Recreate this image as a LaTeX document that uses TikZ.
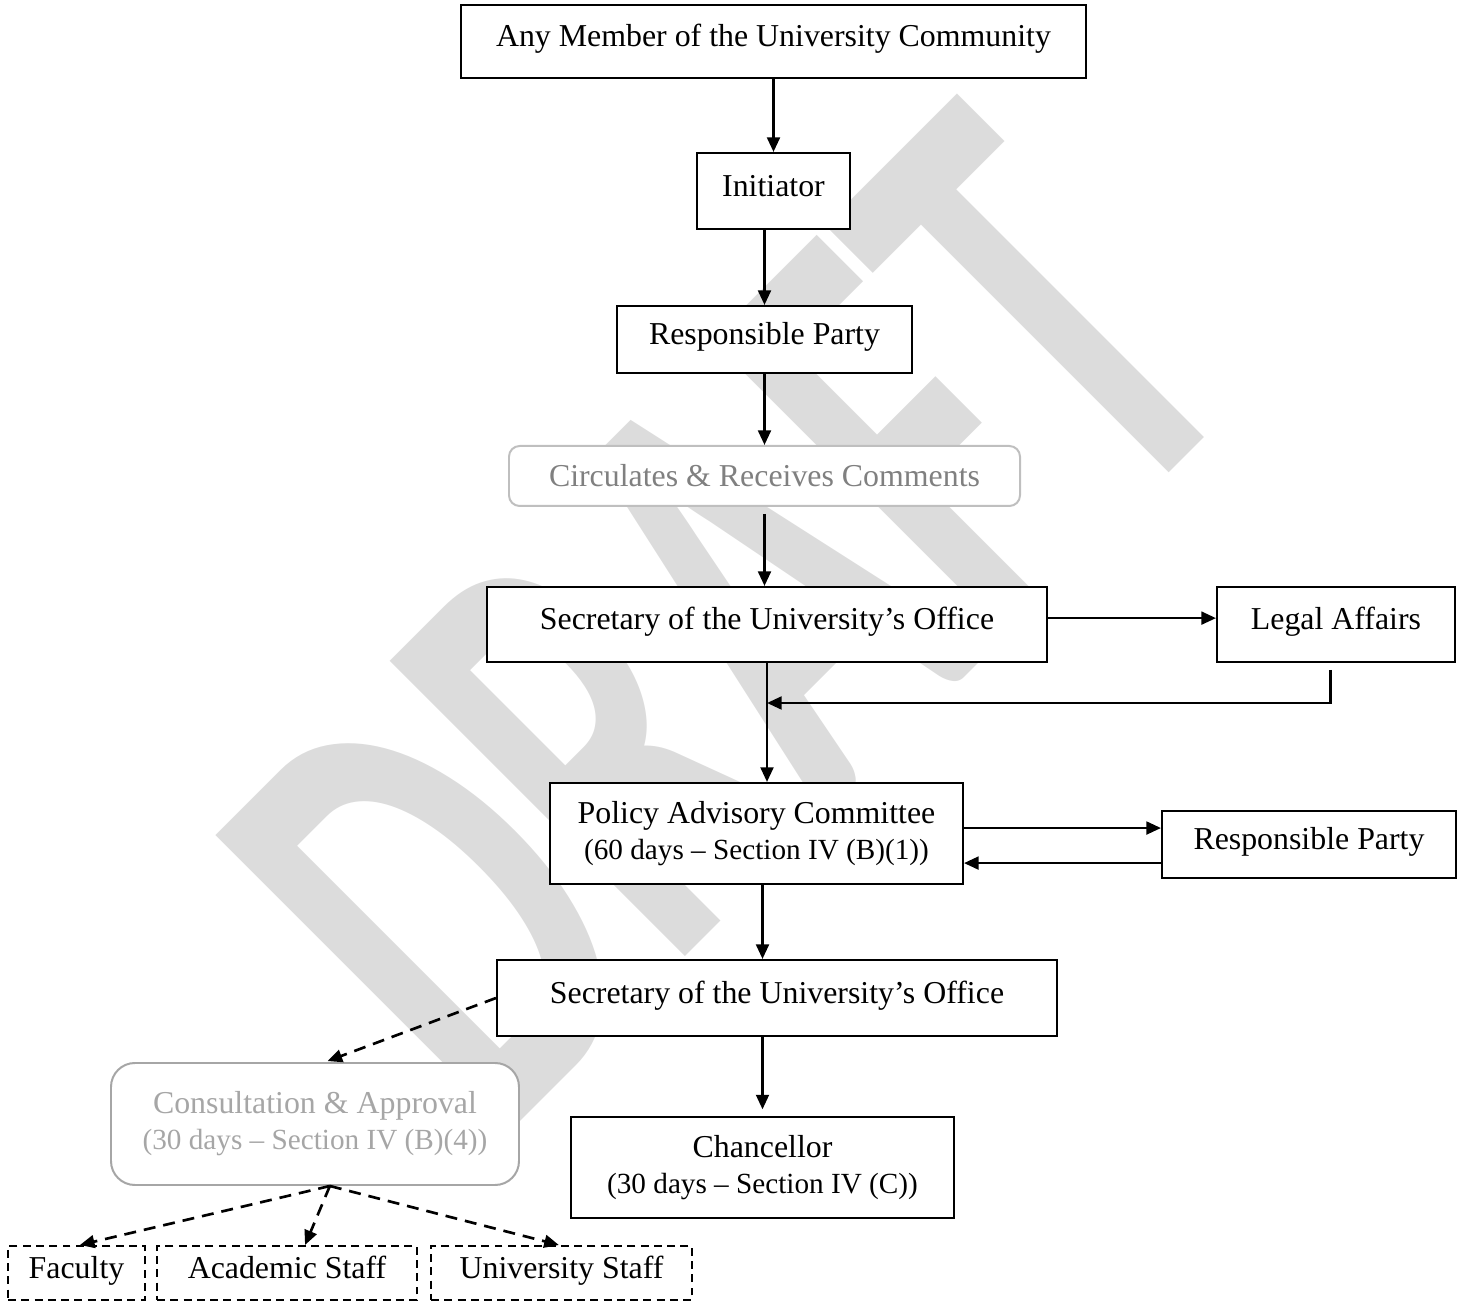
\documentclass[tikz,border=0pt]{standalone}
\usepackage{fontspec}
\setmainfont{Liberation Serif}
\newfontfamily\wmfont{Carlito}
\usetikzlibrary{arrows.meta}
\definecolor{wmgray}{RGB}{220,220,220}
\definecolor{circtext}{RGB}{128,128,128}
\definecolor{circline}{RGB}{191,191,191}
\definecolor{constext}{RGB}{166,166,166}
\def\px{0.3766pt}
\def\wmsize{147}
\def\wmangle{45}
\def\wmstretch{1.65}

\begin{document}
\begin{tikzpicture}[x=\px, y=-\px,
  boxsize/.style 2 args={minimum width=#1*\px, minimum height=#2*\px},
  box/.style={draw, line width=0.75pt, fill=white, inner sep=0pt, align=center,
    font=\fontsize{12}{13.6}\selectfont, text height=8.5pt, text depth=4.5pt},
  twobox/.style={box, text height=, text depth=},
  softbox/.style={rounded corners=4pt, draw=circline, text=circtext},
  dashbox/.style={box, dash pattern=on 3pt off 2pt},
  arr/.style={-{Triangle[length=5.5pt,width=4.8pt]}, line width=1pt},
  dasharr/.style={arr, dash pattern=on 4.5pt off 3pt},
]
\useasboundingbox (0,0) rectangle (1470,1302);

% Watermark
\node[text=wmgray, font=\wmfont\bfseries\fontsize{\wmsize}{\wmsize}\selectfont,
  inner sep=0pt, rotate=\wmangle, yscale=\wmstretch] (draft) at (728,619) {DRAFT};

% Main column
\node[box, boxsize={625}{73}] (member) at (773.5,41.5) {Any Member of the University Community};
\node[box, boxsize={153}{76}] (init) at (773.5,191) {Initiator};
\node[box, boxsize={295}{67}] (resp) at (764.5,339.5) {Responsible Party};
\node[twobox, softbox, boxsize={511}{60}] (circ) at (764.5,476) {Circulates \& Receives Comments};
\node[box, boxsize={560}{75}] (sec1) at (767,624.5) {Secretary of the University's Office};
\node[twobox, boxsize={413}{101}] (pac) at (756.5,833.5) {Policy Advisory Committee\\{\fontsize{11}{13}\selectfont(60 days -- Section IV (B)(1))}};
\node[box, boxsize={560}{76}] (sec2) at (777,998) {Secretary of the University's Office};
\node[twobox, boxsize={383}{101}] (chan) at (762.5,1167.5) {Chancellor\\{\fontsize{11}{13}\selectfont(30 days -- Section IV (C))}};

% Side boxes
\node[box, boxsize={238}{75}] (legal) at (1336,624.5) {Legal Affairs};
\node[box, boxsize={294}{67}] (resp2) at (1309,844.5) {Responsible Party};

% Consultation branch
\node[twobox, softbox, draw=constext, text=constext, rounded corners=9pt, boxsize={408}{122}] (cons) at (315,1124) {Consultation \& Approval\\{\fontsize{11}{13}\selectfont(30 days -- Section IV (B)(4))}};
\node[dashbox, boxsize={137}{54}] (fac) at (76.5,1273) {Faculty};
\node[dashbox, boxsize={260}{54}] (acad) at (287,1273) {Academic Staff};
\node[dashbox, boxsize={261}{54}] (univ) at (561.5,1273) {University Staff};

% Named points
\coordinate (merge) at (sec1.south |- 0,703);
\coordinate (rpIn) at ([yshift=6.2pt]resp2.west);
\coordinate (rpOut) at ([yshift=-7pt]resp2.west);
\coordinate (apex) at ([xshift=5.6pt]cons.south);

% Solid arrows
\draw[arr] (member) -- (init);
\draw[arr] (init.south -| resp.north) -- (resp.north);
\draw[arr] (resp) -- (circ);
\draw[arr, shorten <=2.6pt] (circ.south) -- (circ.south |- sec1.north);
\draw[arr] (sec1.south) -- (sec1.south |- pac.north);
\draw[arr] ([yshift=2.4pt]sec1.east) -- ([yshift=2.4pt]legal.west);
\draw[arr] ([xshift=-2pt, yshift=-2.6pt]legal.south) |- (merge); % return from Legal Affairs
\draw[arr] (pac.east |- rpIn) -- (rpIn);
\draw[arr] (rpOut) -- (pac.east |- rpOut);
\draw[arr] (pac.south -| chan.north) -- (chan.north |- sec2.north);
\draw[arr, shorten >=2.5pt] (chan.north |- sec2.south) -- (chan.north);

% Dashed arrows
\draw[dasharr, shorten >=1pt] (sec2.west) -- ([xshift=3.8pt]cons.north);
\draw[dasharr] (apex) -- ([xshift=1.3pt]fac.north);
\draw[dasharr] (apex) -- ([xshift=6.8pt]acad.north);
\draw[dasharr] (apex) -- ([xshift=-1pt]univ.north);

\end{tikzpicture}
\end{document}
